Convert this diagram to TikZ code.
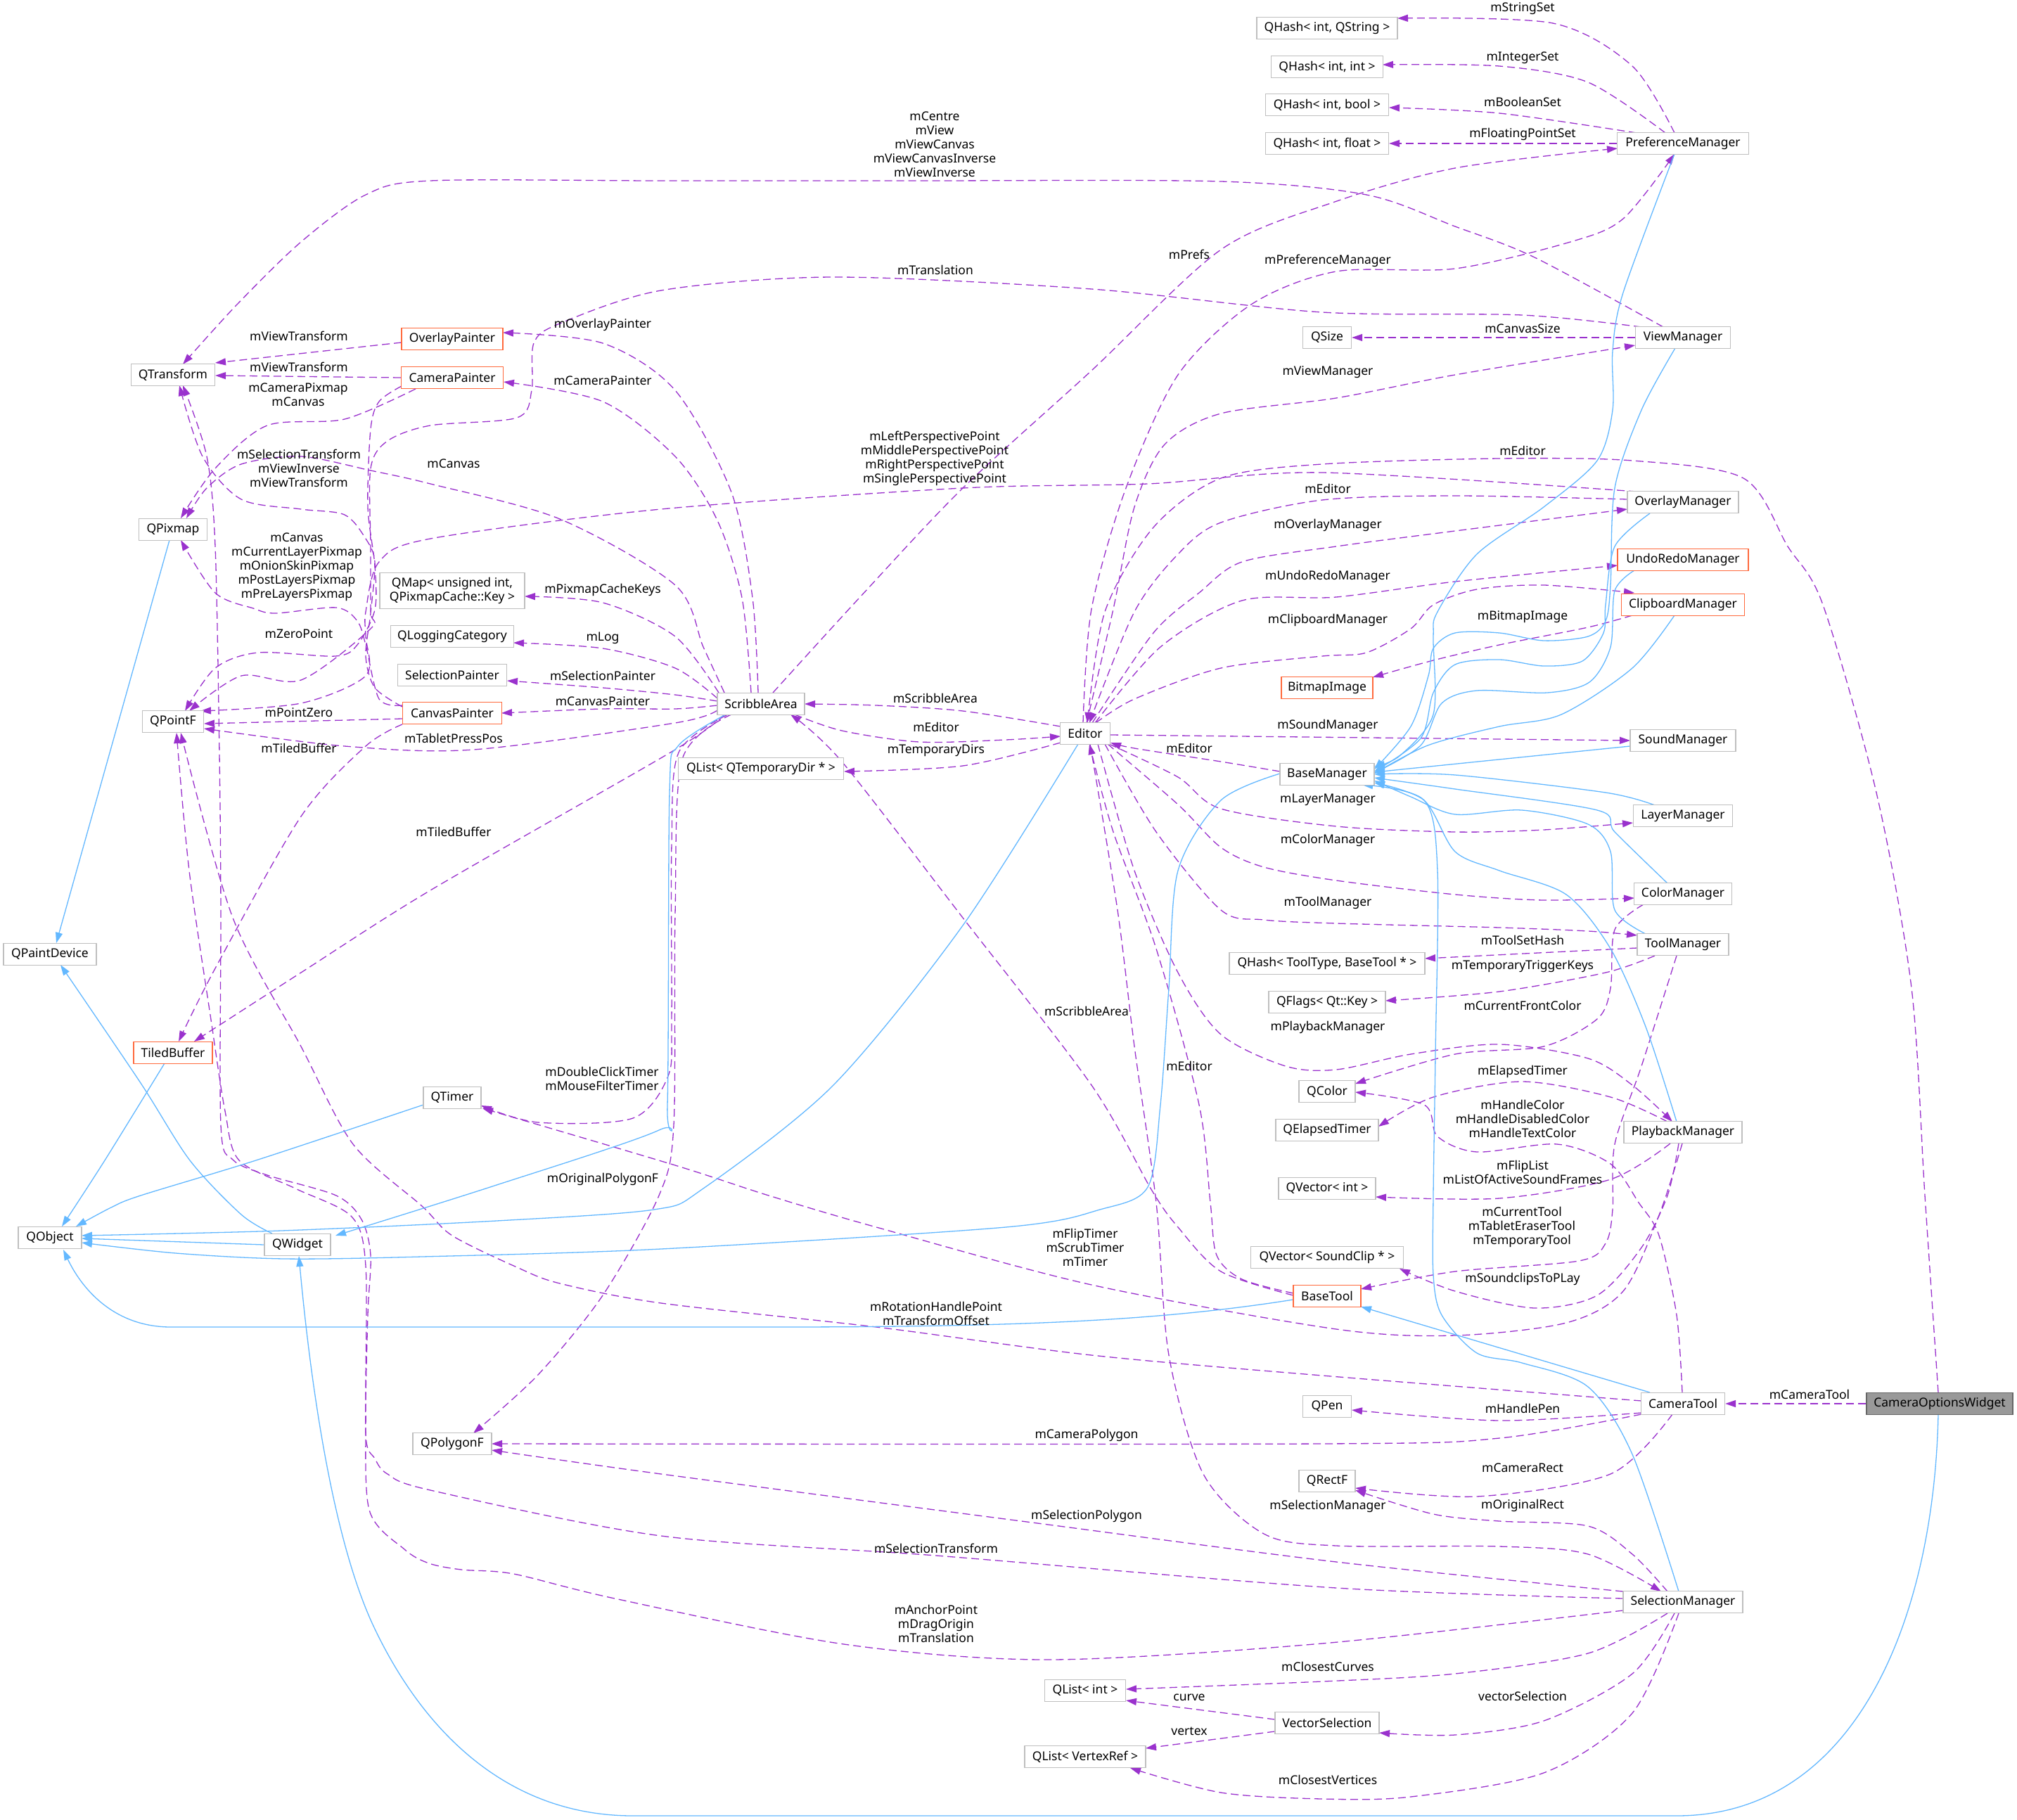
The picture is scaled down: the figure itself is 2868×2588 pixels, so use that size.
\documentclass[tikz,border=0pt]{standalone}
\usepackage{fontspec}
\setmainfont{Noto Sans}
\usetikzlibrary{arrows.meta,calc}
\definecolor{dep}{HTML}{9A32CD}
\definecolor{inh}{HTML}{63B8FF}
\definecolor{bx}{HTML}{BFBFBF}
\definecolor{orn}{HTML}{FF6A3D}
\definecolor{cur}{HTML}{999999}
\definecolor{curb}{HTML}{666666}
\newcommand\dxf{\fontsize{17.5}{20}\selectfont}
\pgfdeclarelayer{bg}
\pgfsetlayers{bg,main}
\begin{document}
\begin{tikzpicture}[x=1pt,y=-1pt,
 cls/.style={draw=bx, line width=1.3pt, fill=white, minimum height=31pt, inner sep=0pt, font=\dxf},
 trunc/.style={cls, draw=orn},
 curcls/.style={cls, draw=curb, fill=cur},
 lbl/.style={font=\dxf, inner sep=0pt, align=center},
 depe/.style={draw=dep, line width=1.3pt, dash pattern=on 11pt off 6pt, -{Triangle[length=15pt,width=10pt]}},
 inhe/.style={draw=inh, line width=1.3pt, -{Triangle[length=15pt,width=10pt]}},
 sm/.style={smooth,tension=.5}]
\useasboundingbox (0,0) rectangle (2868,2588);
% nodes
\node[cls,minimum width=200pt] (qhs) at (1887,40) {QHash< int, QString >};
\node[cls,minimum width=159pt] (qhi) at (1887,95) {QHash< int, int >};
\node[cls,minimum width=175pt] (qhb) at (1887,149) {QHash< int, bool >};
\node[cls,minimum width=175pt] (qhf) at (1887,204) {QHash< int, float >};
\node[cls,minimum width=187pt] (pref) at (2393,204) {PreferenceManager};
\node[cls,minimum width=69pt] (qsize) at (1887,480) {QSize};
\node[cls,minimum width=135pt] (view) at (2393,480) {ViewManager};
\node[cls,minimum width=119pt] (qtrans) at (246,533) {QTransform};
\node[trunc,minimum width=144pt] (ovp) at (643,482) {OverlayPainter};
\node[trunc,minimum width=145pt] (camp) at (643,537) {CameraPainter};
\node[cls,minimum width=97pt] (qpix) at (246,753) {QPixmap};
\node[cls,minimum width=206pt,minimum height=51pt,align=center] (qmap) at (643,840) {QMap< unsigned int,\\ QPixmapCache::Key >};
\node[cls,minimum width=175pt] (qlog) at (643,905) {QLoggingCategory};
\node[cls,minimum width=155pt] (selp) at (643,960) {SelectionPainter};
\node[trunc,minimum width=141pt] (canp) at (643,1014) {CanvasPainter};
\node[cls,minimum width=87pt] (qpointf) at (246,1026) {QPointF};
\node[cls,minimum width=124pt] (scrib) at (1082,1001) {ScribbleArea};
\node[cls,minimum width=235pt] (qtemp) at (1082,1093) {QList< QTemporaryDir * >};
\node[cls,minimum width=71pt] (editor) at (1543,1043) {Editor};
\node[cls,minimum width=158pt] (ovm) at (2393,714) {OverlayManager};
\node[trunc,minimum width=186pt] (undo) at (2393,796) {UndoRedoManager};
\node[trunc,minimum width=175pt] (clip) at (2393,860) {ClipboardManager};
\node[trunc,minimum width=130pt] (bitmap) at (1887,978) {BitmapImage};
\node[cls,minimum width=150pt] (sound) at (2393,1053) {SoundManager};
\node[cls,minimum width=134pt] (base) at (1887,1101) {BaseManager};
\node[cls,minimum width=141pt] (layer) at (2393,1160) {LayerManager};
\node[cls,minimum width=139pt] (colorm) at (2393,1271) {ColorManager};
\node[cls,minimum width=130pt] (toolm) at (2393,1343) {ToolManager};
\node[cls,minimum width=278pt] (qhtt) at (1887,1370) {QHash< ToolType, BaseTool * >};
\node[cls,minimum width=166pt] (qflags) at (1887,1425) {QFlags< Qt::Key >};
\node[cls,minimum width=80pt] (qcolor) at (1887,1552) {QColor};
\node[cls,minimum width=146pt] (qelapsed) at (1887,1607) {QElapsedTimer};
\node[cls,minimum width=168pt] (play) at (2393,1610) {PlaybackManager};
\node[cls,minimum width=138pt] (qvint) at (1887,1690) {QVector< int >};
\node[cls,minimum width=217pt] (qvsc) at (1887,1788) {QVector< SoundClip * >};
\node[trunc,minimum width=96pt] (basetool) at (1887,1843) {BaseTool};
\node[cls,minimum width=119pt] (camtool) at (2393,1996) {CameraTool};
\node[curcls,minimum width=208pt] (cow) at (2758,1996) {CameraOptionsWidget};
\node[cls,minimum width=69pt] (qpen) at (1887,2000) {QPen};
\node[cls,minimum width=80pt] (qrectf) at (1887,2106) {QRectF};
\node[cls,minimum width=170pt] (selm) at (2393,2278) {SelectionManager};
\node[cls,minimum width=115pt] (qlint) at (1543,2404) {QList< int >};
\node[cls,minimum width=148pt] (vecsel) at (1887,2450) {VectorSelection};
\node[cls,minimum width=172pt] (qlvr) at (1543,2498) {QList< VertexRef >};
\node[cls,minimum width=112pt] (qpoly) at (643,2053) {QPolygonF};
\node[cls,minimum width=82pt] (qtimer) at (643,1561) {QTimer};
\node[cls,minimum width=94pt] (qwidget) at (423,1770) {QWidget};
\node[cls,minimum width=90pt] (qobject) at (71,1760) {QObject};
\node[cls,minimum width=132pt] (qpaint) at (71,1357) {QPaintDevice};
\node[trunc,minimum width=112pt] (tiled) at (246,1497) {TiledBuffer};
\begin{pgfonlayer}{bg}
\fill[white] (0,0) rectangle (2868,2588);
% ---- dependency edges
\draw[depe] plot[sm] coordinates {($(pref)+(-12,-15)$) (2321,94) (2208,33) ($(qhs)+(100,-14)$)};
\draw[depe] plot[sm] coordinates {($(pref)+(-25,-15)$) (2258,117) (2132,94) ($(qhi)+(79,-3)$)};
\draw[depe] plot[sm] coordinates {($(pref)+(-66,-15)$) (2132,161) ($(qhb)+(88,4)$)};
\draw[depe] (pref.west) -- (qhf.east);
\draw[depe] plot[sm] coordinates {($(scrib)+(17,-16)$) (1222,850) (1369,694) (1552,527) (1736,355) (1895,288) (2069,239) ($(pref)+(-93,7)$)};
\draw[depe] plot[sm] coordinates {($(editor)+(-3,-15)$) (1552,866) (1601,694) (1675,533) (1779,433) (1900,386) (2069,382) (2233,344) (2308,311) ($(pref)+(-12,15)$)};
\draw[depe] plot[sm] coordinates {($(editor)+(2,-15)$) (1583,866) (1613,721) (1656,632) (1736,588) (1900,566) (2069,533) ($(view)+(-68,11)$)};
\draw[depe] plot[sm] coordinates {($(ovm)+(-79,-4)$) (2069,705) (1880,711) (1736,743) (1675,788) (1613,870) ($(editor)+(6,-15)$)};
\draw[depe] plot[sm] coordinates {($(editor)+(10,-15)$) (1640,900) (1705,843) (1766,799) (1900,777) (2069,755) ($(ovm)+(-79,10)$)};
\draw[depe] plot[sm] coordinates {($(editor)+(14,-15)$) (1650,920) (1766,854) (1900,849) (2069,827) ($(undo)+(-93,8)$)};
\draw[depe] plot[sm] coordinates {($(editor)+(15,-15)$) (1613,994) (1736,950) (1880,933) (1943,928) (2006,894) (2038,860) (2100,838) (2195,832) ($(clip)+(-69,-17)$)};
\draw[depe] plot[sm] coordinates {($(cow)+(-2,-16)$) (2737,1700) (2718,1405) (2668,1127) (2592,860) (2542,777) (2479,680) (2321,655) (2132,652) (1880,660) (1736,680) (1640,750) (1571,870) ($(editor)+(3,-15)$)};
\draw[depe] ($(editor)+(36,2)$) -- ($(sound)+(-75,0)$);
\draw[depe] plot[sm] coordinates {($(base)+(-67,-4)$) (1736,1083) (1613,1064) ($(editor)+(36,13)$)};
\draw[depe] plot[sm] coordinates {($(editor)+(34,15)$) (1675,1105) (1736,1150) (1900,1175) (2069,1183) (2195,1180) ($(layer)+(-71,10)$)};
\draw[depe] plot[sm] coordinates {($(editor)+(32,15)$) (1675,1144) (1736,1205) (1797,1233) (1900,1252) (2069,1272) (2195,1280) ($(colorm)+(-69,6)$)};
\draw[depe] plot[sm] coordinates {($(editor)+(28,15)$) (1644,1183) (1736,1294) (1797,1308) (1900,1313) (2132,1319) (2258,1324) ($(toolm)+(-65,-13)$)};
\draw[depe] plot[sm] coordinates {($(editor)+(18,15)$) (1613,1238) (1675,1383) (1736,1471) (1828,1516) (1900,1521) (2006,1499) (2132,1485) (2258,1505) (2321,1543) ($(play)+(-15,-15)$)};
\draw[depe] plot[sm] coordinates {($(editor)+(7,15)$) (1589,1294) (1613,1488) (1644,1710) (1662,1927) (1711,2096) (1797,2181) (1900,2198) (2132,2199) (2258,2210) ($(selm)+(-31,-15)$)};
\draw[depe] plot[sm] coordinates {($(basetool)+(-48,-4)$) (1766,1819) (1730,1785) (1721,1710) (1705,1571) (1644,1349) (1583,1183) ($(editor)+(6,15)$)};
\draw[depe] plot[sm] coordinates {($(basetool)+(-48,-1)$) (1736,1808) (1675,1745) (1638,1693) (1552,1543) (1369,1305) (1197,1083) ($(scrib)+(42,15)$)};
\draw[depe] plot[sm] coordinates {($(editor)+(-35,-10)$) (1369,1011) (1246,1003) ($(scrib)+(62,0)$)};
\draw[depe] plot[sm] coordinates {($(scrib)+(48,15)$) (1197,1039) (1307,1055) (1430,1052) ($(editor)+(-35,4)$)};
\draw[depe] plot[sm] coordinates {($(editor)+(-35,13)$) (1369,1089) ($(qtemp)+(118,4)$)};
\draw[depe] plot[sm] coordinates {($(scrib)+(-4,-16)$) (1070,850) (1040,700) (960,555) (857,488) ($(ovp)+(72,-9)$)};
\draw[depe] plot[sm] coordinates {($(scrib)+(-14,-16)$) (1055,850) (1020,740) (960,649) (857,571) ($(camp)+(73,6)$)};
\draw[depe] plot[sm] coordinates {($(scrib)+(-52,-16)$) (1000,920) (960,832) (796,738) (612,688) (527,669) (428,649) (343,660) (294,694) ($(qpix)+(19,-16)$)};
\draw[depe] plot[sm] coordinates {($(scrib)+(-60,-16)$) (960,905) (857,857) ($(qmap)+(103,8)$)};
\draw[depe] plot[sm] coordinates {($(scrib)+(-62,-8)$) (960,950) (857,922) ($(qlog)+(87,9)$)};
\draw[depe] plot[sm] coordinates {($(scrib)+(-62,-4)$) (960,988) (857,978) ($(selp)+(78,8)$)};
\draw[depe] plot[sm] coordinates {($(scrib)+(-62,2)$) (960,1008) (857,1008) ($(canp)+(70,0)$)};
\draw[depe] plot[sm] coordinates {($(scrib)+(-62,9)$) (960,1028) (673,1066) (490,1061) ($(qpointf)+(44,10)$)};
\draw[depe] plot[sm] coordinates {($(scrib)+(-52,15)$) (960,1066) (612,1266) (428,1383) ($(tiled)+(30,-16)$)};
\draw[depe] plot[sm] coordinates {($(scrib)+(-47,15)$) (965,1070) (955,1200) (955,1450) (950,1530) (900,1590) (765,1596) ($(qtimer)+(41,11)$)};
\draw[depe] plot[sm] coordinates {($(scrib)+(-42,15)$) (970,1080) (960,1300) (958,1600) (937,1700) (857,1842) (765,1955) ($(qpoly)+(30,-15)$)};
\draw[depe] ($(ovp)+(-72,5)$) -- ($(qtrans)+(60,-17)$);
\draw[depe] (camp.west) -- ($(qtrans)+(60,1)$);
\draw[depe] plot[sm] coordinates {($(camp)+(-52,16)$) (490,596) (380,605) (306,666) ($(qpix)+(11,-16)$)};
\draw[depe] plot[sm] coordinates {($(camp)+(-72,12)$) (539,571) (527,610) (523,721) (533,804) (533,867) (508,917) (477,933) (367,928) (306,950) ($(qpointf)+(17,-15)$)};
\draw[depe] plot[sm] coordinates {($(view)+(-59,-15)$) (2164,448) (1880,444) (1552,411) (1185,394) (940,413) (796,460) (759,488) (756,555) (735,594) (612,605) (551,627) (527,666) (527,777) (527,870) (527,894) (428,967) (343,961) ($(qpointf)+(23,-15)$)};
\draw[depe] plot[sm] coordinates {($(ovm)+(-66,-15)$) (1880,672) (1632,688) (1369,694) (940,724) (612,766) (539,799) (520,870) (520,905) (520,961) (428,1000) ($(qpointf)+(39,-15)$)};
\draw[depe] ($(canp)+(-71,8)$) -- ($(qpointf)+(44,3)$);
\draw[depe] plot[sm] coordinates {($(canp)+(-71,-9)$) (533,978) (520,933) (527,872) (533,799) (520,766) (490,732) (428,724) (343,710) (288,649) ($(qtrans)+(9,15)$)};
\draw[depe] plot[sm] coordinates {($(canp)+(-71,-11)$) (539,994) (520,917) (508,883) (478,864) (392,872) (360,865) (306,843) ($(qpix)+(11,15)$)};
\draw[depe] plot[sm] coordinates {($(canp)+(-71,16)$) (520,1061) (428,1161) (306,1377) ($(tiled)+(8,-16)$)};
\draw[depe] plot[sm] coordinates {($(selm)+(-85,-5)$) (1900,2258) (1331,2212) (940,2184) (612,2119) (551,2096) (533,2074) (520,2040) (523,1870) (527,1785) (514,1734) (478,1700) (380,1671) (331,1649) (314,1600) (314,1294) (312,1072) (306,777) (294,649) ($(qtrans)+(14,15)$)};
\draw[depe] plot[sm] coordinates {($(selm)+(-85,12)$) (1880,2337) (1491,2360) (1200,2338) (874,2273) (730,2238) (656,2232) (610,2223) (575,2203) (525,2147) (520,2000) (520,1800) (500,1730) (420,1690) (340,1650) (320,1580) (300,1450) (269,1238) ($(qpointf)+(5,16)$)};
\draw[depe] plot[sm] coordinates {($(camtool)+(-59,-4)$) (1880,1956) (1552,1927) (1246,1887) (940,1853) (796,1825) (735,1802) (643,1757) (600,1715) (502,1627) (428,1488) (331,1305) ($(qpointf)+(11,16)$)};
\draw[depe] (view.west) -- (qsize.east);
\draw[depe] plot[sm] coordinates {($(view)+(-28,-15)$) (2182,366) (2069,322) (1943,277) (1736,258) (1300,257) (940,257) (612,257) (520,277) (428,344) (337,433) ($(qtrans)+(14,-15)$)};
\draw[depe] plot[sm] coordinates {($(clip)+(-72,15)$) (2258,892) (2132,917) (2038,939) ($(bitmap)+(65,-15)$)};
\draw[depe] ($(toolm)+(-65,5)$) -- ($(qhtt)+(139,-7)$);
\draw[depe] plot[sm] coordinates {($(toolm)+(-40,16)$) (2283,1383) (2132,1410) ($(qflags)+(83,-2)$)};
\draw[depe] plot[sm] coordinates {($(colorm)+(-56,15)$) (2296,1322) (2290,1405) (2271,1449) (2195,1488) (2069,1499) ($(qcolor)+(40,-11)$)};
\draw[depe] plot[sm] coordinates {($(play)+(-22,-15)$) (2290,1560) (2164,1538) (2038,1560) ($(qelapsed)+(73,-5)$)};
\draw[depe] plot[sm] coordinates {($(camtool)+(-1,-16)$) (2384,1870) (2359,1757) (2330,1710) (2290,1655) (2214,1627) (2100,1638) (2044,1616) (2025,1571) ($(qcolor)+(40,1)$)};
\draw[depe] plot[sm] coordinates {($(play)+(-18,16)$) (2290,1677) (2132,1704) ($(qvint)+(69,12)$)};
\draw[depe] plot[sm] coordinates {($(toolm)+(-9,16)$) (2334,1516) (2296,1627) (2293,1720) (2283,1768) (2245,1793) (2069,1808) ($(basetool)+(48,-10)$)};
\draw[depe] plot[sm] coordinates {($(play)+(-6,16)$) (2371,1700) (2334,1774) (2271,1842) (2182,1860) (2069,1836) ($(qvsc)+(103,16)$)};
\draw[depe] plot[sm] coordinates {($(play)+(-1,16)$) (2359,1728) (2308,1836) (2227,1881) (2069,1899) (1900,1890) (1552,1827) (1246,1745) (1093,1700) (960,1657) ($(qtimer)+(43,15)$)};
\draw[depe] plot[sm] coordinates {($(camtool)+(-59,13)$) (2132,2020) ($(qpen)+(35,5)$)};
\draw[depe] plot[sm] coordinates {($(camtool)+(-59,15)$) (2132,2045) (1880,2053) ($(qpoly)+(56,0)$)};
\draw[depe] plot[sm] coordinates {($(camtool)+(-15,15)$) (2290,2096) (2100,2128) ($(qrectf)+(40,10)$)};
\draw[depe] plot[sm] coordinates {($(selm)+(-22,-15)$) (2321,2210) (2258,2170) (2132,2163) (2038,2153) ($(qrectf)+(40,13)$)};
\draw[depe] plot[sm] coordinates {($(selm)+(-85,-15)$) (1900,2221) (1460,2164) (940,2096) ($(qpoly)+(56,9)$)};
\draw[depe] plot[sm] coordinates {($(selm)+(-22,16)$) (2258,2351) (2069,2380) (1880,2391) ($(qlint)+(58,-2)$)};
\draw[depe] plot[sm] coordinates {($(selm)+(-12,16)$) (2321,2380) (2195,2447) (2069,2467) ($(vecsel)+(74,14)$)};
\draw[depe] plot[sm] coordinates {($(selm)+(-6,16)$) (2321,2436) (2195,2521) (2006,2555) (1880,2558) (1736,2549) ($(qlvr)+(64,16)$)};
\draw[depe] ($(vecsel)+(-74,-5)$) -- ($(qlint)+(58,14)$);
\draw[depe] ($(vecsel)+(-74,12)$) -- ($(qlvr)+(86,-12)$);
\draw[depe] (cow.west) -- (camtool.east);
% ---- inheritance edges
\draw[inhe] plot[sm] coordinates {($(pref)+(-12,15)$) (2308,416) (2293,499) (2293,583) (2271,655) (2195,721) (2100,788) (2044,870) (2038,905) (2038,1016) (1990,1075) ($(base)+(67,-11)$)};
\draw[inhe] plot[sm] coordinates {($(view)+(-11,15)$) (2334,583) (2296,694) (2290,832) (2283,883) (2258,905) (2195,911) (2132,900) (2069,900) (2038,922) (2031,961) (2006,1033) ($(base)+(67,-7)$)};
\draw[inhe] plot[sm] coordinates {($(ovm)+(-47,16)$) (2296,777) (2283,860) (2280,900) (2250,940) (2195,947) (2132,938) (2069,945) (2038,985) (2020,1050) ($(base)+(67,-4)$)};
\draw[inhe] plot[sm] coordinates {($(undo)+(-69,15)$) (2296,840) (2290,920) (2260,970) (2200,985) (2100,982) (2050,1000) (2020,1060) ($(base)+(67,-2)$)};
\draw[inhe] plot[sm] coordinates {($(clip)+(-12,15)$) (2321,950) (2220,1016) (2132,1033) (2030,1060) ($(base)+(67,-1)$)};
\draw[inhe] ($(sound)+(-75,8)$) -- ($(base)+(67,-3)$);
\draw[inhe] plot[sm] coordinates {($(layer)+(-40,-15)$) (2283,1127) (2069,1102) ($(base)+(67,0)$)};
\draw[inhe] plot[sm] coordinates {($(colorm)+(-22,-15)$) (2296,1183) (2271,1152) (2069,1122) ($(base)+(67,5)$)};
\draw[inhe] plot[sm] coordinates {($(toolm)+(-53,-15)$) (2296,1294) (2290,1211) (2258,1172) (2164,1152) (2069,1158) (2006,1133) ($(base)+(67,9)$)};
\draw[inhe] plot[sm] coordinates {($(play)+(-9,-15)$) (2340,1460) (2290,1349) (2227,1272) (2132,1238) (2069,1211) (2025,1138) ($(base)+(67,12)$)};
\draw[inhe] plot[sm] coordinates {($(selm)+(-6,-15)$) (2321,2068) (2258,1972) (2164,1938) (2100,1924) (2050,1870) (2038,1813) (2038,1700) (2041,1500) (2044,1238) (2025,1138) ($(base)+(50,15)$)};
\draw[inhe] ($(camtool)+(-47,-16)$) -- ($(basetool)+(48,15)$);
\draw[inhe] plot[sm] coordinates {($(base)+(-67,-1)$) (1736,1138) (1675,1238) (1662,1405) (1650,1571) (1632,1688) (1564,1720) (1430,1745) (940,1776) (600,1787) (405,1790) (250,1782) ($(qobject)+(45,7)$)};
\draw[inhe] plot[sm] coordinates {($(scrib)+(-50,15)$) (964,1061) (952,1127) (949,1571) (937,1607) (700,1687) ($(qwidget)+(54,-13)$)};
\draw[inhe] plot[sm] coordinates {($(editor)+(-10,15)$) (1369,1316) (1185,1543) (1000,1690) (930,1720) (706,1736) (400,1750) ($(qobject)+(45,-3)$)};
\draw[inhe] (qwidget.west) -- ($(qobject)+(45,1)$);
\draw[inhe] plot[sm] coordinates {($(qwidget)+(-36,-16)$) (343,1727) (270,1650) (200,1540) ($(qpaint)+(15,15)$)};
\draw[inhe] ($(qpix)+(-5,15)$) -- ($(qpaint)+(9,-16)$);
\draw[inhe] plot[sm] coordinates {($(tiled)+(-12,15)$) (149,1650) ($(qobject)+(17,-16)$)};
\draw[inhe] plot[sm] coordinates {($(qtimer)+(-41,10)$) (367,1649) (200,1700) (158,1717) ($(qobject)+(37,-16)$)};
\draw[inhe] ($(basetool)+(-48,5)$) .. controls (1650,1878) and (1450,1887) .. (1100,1887) -- (243,1887) .. controls (160,1887) and (115,1830) .. ($(qobject)+(19,17)$);
\draw[inhe] ($(cow)+(-2,15)$) .. controls (2750,2300) and (2640,2582) .. (2384,2582) -- (900,2582) .. controls (720,2582) and (600,2460) .. (530,2310) .. controls (470,2180) and (440,1950) .. ($(qwidget)+(2,16)$);
\end{pgfonlayer}
% labels
\node[lbl] (L1) at (2165,12) {mStringSet};
\node[lbl] (L2) at (2165,82) {mIntegerSet};
\node[lbl] (L3) at (2165,145) {mBooleanSet};
\node[lbl] (L4) at (2165,191) {mFloatingPointSet};
\node[lbl] (L5) at (1329,205) {mCentre\\mView\\mViewCanvas\\mViewCanvasInverse\\mViewInverse};
\node[lbl] (L6) at (1330,384) {mTranslation};
\node[lbl] (L7) at (1691,362) {mPrefs};
\node[lbl] (L8) at (1888,371) {mPreferenceManager};
\node[lbl] (L9) at (2165,467) {mCanvasSize};
\node[lbl] (L10) at (1888,529) {mViewManager};
\node[lbl] (L11) at (1329,652) {mLeftPerspectivePoint\\mMiddlePerspectivePoint\\mRightPerspectivePoint\\mSinglePerspectivePoint};
\node[lbl] (L12) at (2165,641) {mEditor};
\node[lbl] (L13) at (1888,695) {mEditor};
\node[lbl] (L14) at (1888,747) {mOverlayManager};
\node[lbl] (L15) at (1888,820) {mUndoRedoManager};
\node[lbl] (L16) at (1888,882) {mClipboardManager};
\node[lbl] (L17) at (2165,877) {mBitmapImage};
\node[lbl] (L18) at (425,478) {mViewTransform};
\node[lbl] (L19) at (425,522) {mViewTransform};
\node[lbl] (L20) at (424,561) {mCameraPixmap\\mCanvas};
\node[lbl] (L21) at (857,462) {mOverlayPainter};
\node[lbl] (L22) at (857,541) {mCameraPainter};
\node[lbl] (L23) at (425,666) {mSelectionTransform\\mViewInverse\\mViewTransform};
\node[lbl] (L24) at (645,659) {mCanvas};
\node[lbl] (L25) at (422,806) {mCanvas\\mCurrentLayerPixmap\\mOnionSkinPixmap\\mPostLayersPixmap\\mPreLayersPixmap};
\node[lbl] (L26) at (857,839) {mPixmapCacheKeys};
\node[lbl] (L27) at (425,901) {mZeroPoint};
\node[lbl] (L28) at (857,907) {mLog};
\node[lbl] (L29) at (857,961) {mSelectionPainter};
\node[lbl] (L30) at (857,997) {mCanvasPainter};
\node[lbl] (L31) at (425,1013) {mPointZero};
\node[lbl] (L32) at (645,1050) {mTabletPressPos};
\node[lbl] (L33) at (425,1064) {mTiledBuffer};
\node[lbl] (L34) at (645,1183) {mTiledBuffer};
\node[lbl] (L35) at (856,1534) {mDoubleClickTimer\\mMouseFilterTimer};
\node[lbl] (L36) at (857,1677) {mOriginalPolygonF};
\node[lbl] (L37) at (1330,993) {mScribbleArea};
\node[lbl] (L38) at (1331,1034) {mEditor};
\node[lbl] (L39) at (1331,1067) {mTemporaryDirs};
\node[lbl] (L40) at (1888,1032) {mSoundManager};
\node[lbl] (L41) at (1691,1064) {mEditor};
\node[lbl] (L42) at (1888,1137) {mLayerManager};
\node[lbl] (L43) at (1888,1195) {mColorManager};
\node[lbl] (L44) at (1888,1284) {mToolManager};
\node[lbl] (L45) at (1888,1461) {mPlaybackManager};
\node[lbl] (L46) at (1545,1438) {mScribbleArea};
\node[lbl] (L47) at (1691,1516) {mEditor};
\node[lbl] (L48) at (2165,1337) {mToolSetHash};
\node[lbl] (L49) at (2165,1374) {mTemporaryTriggerKeys};
\node[lbl] (L50) at (2165,1430) {mCurrentFrontColor};
\node[lbl] (L51) at (2165,1524) {mElapsedTimer};
\node[lbl] (L52) at (2165,1591) {mHandleColor\\mHandleDisabledColor\\mHandleTextColor};
\node[lbl] (L53) at (2165,1667) {mFlipList\\mListOfActiveSoundFrames};
\node[lbl] (L54) at (2164,1745) {mCurrentTool\\mTabletEraserTool\\mTemporaryTool};
\node[lbl] (L55) at (2165,1819) {mSoundclipsToPLay};
\node[lbl] (L56) at (2573,1983) {mCameraTool};
\node[lbl] (L57) at (2165,2003) {mHandlePen};
\node[lbl] (L58) at (2165,2087) {mCameraRect};
\node[lbl] (L59) at (2165,2141) {mOriginalRect};
\node[lbl] (L60) at (2165,2412) {vectorSelection};
\node[lbl] (L61) at (1543,1774) {mFlipTimer\\mScrubTimer\\mTimer};
\node[lbl] (L62) at (1331,1868) {mRotationHandlePoint\\mTransformOffset};
\node[lbl] (L63) at (1545,2041) {mCameraPolygon};
\node[lbl] (L64) at (1545,2156) {mSelectionPolygon};
\node[lbl] (L65) at (1888,2142) {mSelectionManager};
\node[lbl] (L66) at (1331,2202) {mSelectionTransform};
\node[lbl] (L67) at (1331,2309) {mAnchorPoint\\mDragOrigin\\mTranslation};
\node[lbl] (L68) at (1888,2370) {mClosestCurves};
\node[lbl] (L69) at (1691,2414) {curve};
\node[lbl] (L70) at (1691,2462) {vertex};
\node[lbl] (L71) at (1888,2531) {mClosestVertices};
\end{tikzpicture}
\end{document}
